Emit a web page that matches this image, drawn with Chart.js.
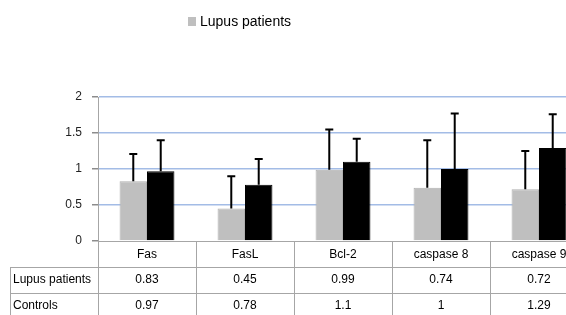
<!DOCTYPE html>
<html>
<head>
<meta charset="utf-8">
<script src="https://cdn.jsdelivr.net/npm/chart.js@4.4.1/dist/chart.umd.min.js"></script>
<style>
  html, body { margin: 0; padding: 0; background: #fff; overflow: hidden; }
  #wrap { position: relative; width: 590px; height: 315px; }
</style>
</head>
<body>
<div id="wrap"><canvas id="apoptosisChart"></canvas></div>
<script>
// --- data ---
const genes = ['Fas', 'FasL', 'Bcl-2', 'caspase 8', 'caspase 9'];
const lupusMeans = [0.83, 0.45, 0.99, 0.74, 0.72];
const controlMeans = [0.97, 0.78, 1.1, 1, 1.29];
const lupusErr = [0.38, 0.45, 0.56, 0.66, 0.53];
const controlErr = [0.43, 0.36, 0.32, 0.77, 0.47];
const yTicks = [0, 0.5, 1, 1.5, 2];

const FONT = '"Liberation Sans", Arial, sans-serif';
const LINE_GREY = '#a6a6a6';

// error bars + data table + legend, all hung off the chart scales
const tablePlugin = {
    id: 'excelTable',
    afterDatasetsDraw(chart) {
        const ctx = chart.ctx;
        const yScale = chart.scales.y;
        const errs = [lupusErr, controlErr];
        ctx.save();
        ctx.strokeStyle = '#000';
        ctx.lineWidth = 2;
        chart.data.datasets.forEach((ds, di) => {
            chart.getDatasetMeta(di).data.forEach((bar, i) => {
                const yTop = yScale.getPixelForValue(ds.data[i] + errs[di][i]);
                ctx.beginPath();
                ctx.moveTo(bar.x, bar.y);
                ctx.lineTo(bar.x, yTop);
                ctx.moveTo(bar.x - 4, yTop);
                ctx.lineTo(bar.x + 4, yTop);
                ctx.stroke();
            });
        });
        ctx.restore();
    },
    afterDraw(chart) {
        const ctx = chart.ctx;
        const area = chart.chartArea;
        const xScale = chart.scales.x;
        const bottom = chart.height;
        const rowH = 25.5;
        const r1 = area.bottom + 26;
        const r2 = r1 + rowH;
        const catW = (area.right - area.left) / genes.length;

        ctx.save();
        // grid of the table
        ctx.strokeStyle = LINE_GREY;
        ctx.lineWidth = 1;
        ctx.beginPath();
        for (let i = 0; i <= genes.length; i++) {
            const x = Math.round(area.left + catW * i) + 0.5;
            ctx.moveTo(x, area.bottom);
            ctx.lineTo(x, bottom);
        }
        ctx.moveTo(10.5, r1);
        ctx.lineTo(10.5, bottom);
        [r1, r2].forEach(y => {
            ctx.moveTo(10, Math.round(y) + 0.5);
            ctx.lineTo(area.right, Math.round(y) + 0.5);
        });
        ctx.stroke();

        // axis line at 0
        ctx.beginPath();
        ctx.moveTo(area.left, Math.round(area.bottom) + 0.5);
        ctx.lineTo(area.right, Math.round(area.bottom) + 0.5);
        ctx.stroke();

        // table text
        ctx.fillStyle = '#000';
        ctx.font = '12px ' + FONT;
        ctx.textBaseline = 'middle';
        ctx.textAlign = 'center';
        genes.forEach((g, i) => {
            const x = xScale.getPixelForValue(i);
            ctx.fillText(g, x, area.bottom + 14);
            ctx.fillText(String(lupusMeans[i]), x, r1 + 13);
            ctx.fillText(String(controlMeans[i]), x, r2 + 13);
        });
        ctx.textAlign = 'left';
        ctx.fillText(chart.data.datasets[0].label, 13, r1 + 13);
        ctx.fillText(chart.data.datasets[1].label, 13, r2 + 13);

        // legend (only the first entry shows in the original)
        ctx.fillStyle = chart.data.datasets[0].backgroundColor;
        ctx.fillRect(188, 17, 8, 9);
        ctx.fillStyle = '#000';
        ctx.font = '14px ' + FONT;
        ctx.fillText(chart.data.datasets[0].label, 200, 22);
        ctx.restore();
    }
};

const ctxMain = document.getElementById('apoptosisChart').getContext('2d');
const mainChart = new Chart(ctxMain, {
    type: 'bar',
    data: {
        labels: genes,
        datasets: [
            { label: 'Lupus patients', data: lupusMeans, backgroundColor: '#bfbfbf', borderColor: '#b0b0b0', borderWidth: 1 },
            { label: 'Controls', data: controlMeans, backgroundColor: '#000000', borderColor: '#000000', borderWidth: 1 }
        ]
    },
    options: {
        responsive: true,
        maintainAspectRatio: false,
        animation: false,
        categoryPercentage: 0.56,
        barPercentage: 1,
        layout: { padding: { top: 97, bottom: 74, left: 0, right: 2 } },
        scales: {
            x: { display: false },
            y: {
                min: 0,
                max: 2,
                afterFit: (scale) => { scale.width = 98; },
                afterBuildTicks: (scale) => { scale.ticks = yTicks.map(v => ({ value: v })); },
                border: { color: LINE_GREY },
                grid: {
                    color: (c) => c.tick && c.tick.value === 0 ? 'rgba(0,0,0,0)' : '#a3bce6',
                    lineWidth: 1.5,
                    tickColor: '#8c8c8c',
                    tickLength: 6
                },
                ticks: {
                    color: '#222',
                    font: { family: FONT, size: 12 },
                    padding: 10,
                    callback: (v) => String(v)
                }
            }
        },
        plugins: { legend: { display: false }, tooltip: { enabled: false } }
    },
    plugins: [tablePlugin]
});
</script>
</body>
</html>
